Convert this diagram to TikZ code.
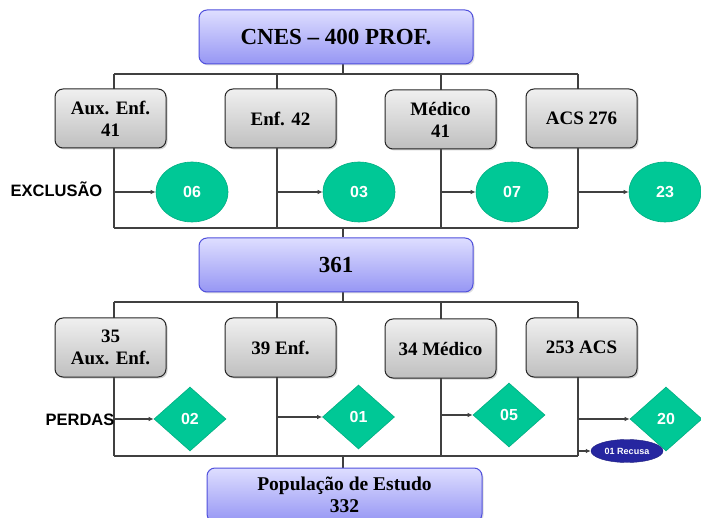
\documentclass[tikz,border=0pt]{standalone}
\usepackage{fontspec}
\setmainfont{Liberation Serif}
\newfontfamily\lsans{Liberation Sans}
\usetikzlibrary{shapes.geometric,arrows.meta,shadows,backgrounds}
\definecolor{ln}{HTML}{404040}
\definecolor{grn}{HTML}{00C896}
\definecolor{grnd}{HTML}{00AE82}
\definecolor{bltop}{HTML}{DEDEFF}
\definecolor{blbot}{HTML}{9696F4}
\definecolor{bledge}{HTML}{5050DC}
\definecolor{navy}{HTML}{2626A0}
\tikzset{
  bluebox/.style={draw=bledge, line width=1pt, rounded corners=8pt, top color=bltop, bottom color=blbot,
    minimum width=274pt, minimum height=54pt, inner sep=0pt, align=center,
    font=\bfseries\fontsize{23}{25}\selectfont,
    drop shadow={shadow xshift=1.5pt, shadow yshift=-1.5pt, opacity=0.25}},
  graybox/.style={draw=black!85, line width=1pt, rounded corners=8pt, top color=black!6, bottom color=black!25,
    minimum width=111pt, minimum height=59pt, inner sep=0pt, align=center,
    font=\bfseries\fontsize{19}{22}\selectfont,
    drop shadow={shadow xshift=1.5pt, shadow yshift=-1.5pt, opacity=0.35}},
  excl/.style={ellipse, draw=grnd, line width=0.6pt, fill=grn, minimum width=72pt, minimum height=60pt,
    inner sep=0pt, text=white, font=\lsans\bfseries\fontsize{16}{18}\selectfont},
  perda/.style={diamond, draw=grnd, line width=0.6pt, fill=grn, minimum width=72pt, minimum height=64pt,
    inner sep=0pt, text=white, font=\lsans\bfseries\fontsize{16}{18}\selectfont},
  recusa/.style={ellipse, draw=navy!80!black, fill=navy, minimum width=72pt, minimum height=23pt,
    inner sep=0pt, text=white, font=\lsans\bfseries\fontsize{9}{10}\selectfont},
  sidelabel/.style={font=\lsans\bfseries\fontsize{16.5}{18}\selectfont},
  conn/.style={draw=ln, line width=1.1pt},
  arr/.style={conn, -{Latex[length=5pt,width=4.5pt]}}
}
\begin{document}
\begin{tikzpicture}[x=1pt,y=-1pt]
\useasboundingbox (0,0) rectangle (701,518);
% coordinates of buses / stems
\coordinate (stem) at (343,0);
\coordinate (c1) at (114,74);
\coordinate (c2) at (277,74);
\coordinate (c3) at (441,74);
\coordinate (c4) at (578,74);
\coordinate (busA) at (0,74);
\coordinate (busB) at (0,228);
\coordinate (busC) at (0,302);
\coordinate (busD) at (0,456);

% top
\node[bluebox] (top) at (336,37) {CNES -- 400 PROF.};
% row 1
\node[graybox] (g1) at (110.5,118.5) {Aux. Enf.\\41};
\node[graybox] (g2) at (280.5,118.5) {Enf. 42};
\node[graybox] (g3) at (440.5,119.5) {Médico\\41};
\node[graybox] (g4) at (581.5,118.5) {ACS 276};
\node[excl] (e1) at (192,192) {06};
\node[excl] (e2) at (359,192) {03};
\node[excl] (e3) at (512,192) {07};
\node[excl] (e4) at (665,192) {23};
\node[sidelabel] (lex) at (56.5,189) {EXCLUSÃO};
% middle
\node[bluebox] (mid) at (336,265) {361};
% row 2
\node[graybox] (h1) at (110.5,347.5) {35\\Aux. Enf.};
\node[graybox] (h2) at (280.5,347.5) {39 Enf.};
\node[graybox] (h3) at (440.5,348.5) {34 Médico};
\node[graybox] (h4) at (581.5,347.5) {253 ACS};
\node[perda] (p1) at (190,419) {02};
\node[perda] (p2) at (358.5,417) {01};
\node[perda] (p3) at (509,415) {05};
\node[perda] (p4) at (666,419) {20};
\node[recusa] (r1) at (627,451) {01 Recusa};
\node[sidelabel] (lpe) at (80,420) {PERDAS};
% bottom
\node[bluebox, minimum width=275pt, font=\bfseries\fontsize{19.5}{22}\selectfont] (bot) at (344.5,495) {População de Estudo\\332};

\begin{scope}[on background layer]
  % level 1
  \draw[conn] (top.south -| stem) -- (stem |- busA);
  \draw[conn] (c1 |- busA) -- (c4 |- busA);
  \foreach \c in {c1,c2,c3,c4} \draw[conn] (\c |- busA) -- (\c |- busB);
  \draw[conn] (c1 |- busB) -- (c4 |- busB);
  \draw[conn] (stem |- busB) -- (mid.north -| stem);
  % level 2
  \draw[conn] (mid.south -| stem) -- (stem |- busC);
  \draw[conn] (c1 |- busC) -- (c4 |- busC);
  \foreach \c in {c1,c2,c3,c4} \draw[conn] (\c |- busC) -- (\c |- busD);
  \draw[conn] (c1 |- busD) -- (c4 |- busD);
  \draw[conn] (stem |- busD) -- (bot.north -| stem);
\end{scope}
% arrows
\draw[arr] (e1.west -| c1) -- (e1.west);
\draw[arr] (e2.west -| c2) -- (e2.west);
\draw[arr] (e3.west -| c3) -- (e3.west);
\draw[arr] (e4.west -| c4) -- (e4.west);
\draw[arr] (c1 |- p1.west) -- (p1.west);
\draw[arr] (c2 |- p2.west) -- (p2.west);
\draw[arr] (c3 |- p3.west) -- (p3.west);
\draw[arr] (c4 |- p4.west) -- (p4.west);
\draw[arr] (c4 |- r1.west) -- (r1.west);
\end{tikzpicture}
\end{document}
